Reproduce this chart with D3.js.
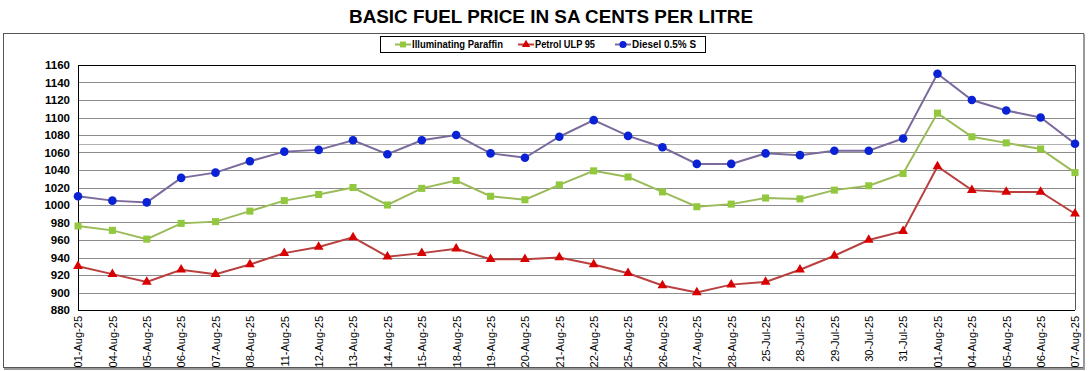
<!DOCTYPE html>
<html>
<head>
<meta charset="utf-8">
<script src="https://d3js.org/d3.v7.min.js"></script>
<style>
  body { margin: 0; background: #fff; }
  text { font-family: "Liberation Sans", Arial, sans-serif; }
</style>
</head>
<body>
<div id="chart"></div>
<script>
// data
var dates = ["01-Aug-25", "04-Aug-25", "05-Aug-25", "06-Aug-25", "07-Aug-25", "08-Aug-25",
    "11-Aug-25", "12-Aug-25", "13-Aug-25", "14-Aug-25", "15-Aug-25", "18-Aug-25",
    "19-Aug-25", "20-Aug-25", "21-Aug-25", "22-Aug-25", "25-Aug-25", "26-Aug-25",
    "27-Aug-25", "28-Aug-25", "25-Jul-25", "28-Jul-25", "29-Jul-25", "30-Jul-25",
    "31-Jul-25", "01-Aug-25 ", "04-Aug-25 ", "05-Aug-25 ", "06-Aug-25 ", "07-Aug-25 "];

var paraffin = [976, 971, 961, 979, 981, 993, 1005, 1012, 1020, 1000, 1019, 1028,
    1010, 1006, 1023, 1039, 1032, 1015, 998, 1001, 1008, 1007, 1017, 1022,
    1036, 1105, 1078, 1071, 1064, 1037];

var petrol = [930, 921, 912, 926, 921, 932, 945, 952, 963, 941, 945, 950,
    938, 938, 940, 932, 922, 908, 900, 909, 912, 926, 942, 960,
    970, 1044, 1017, 1015, 1015, 990];

var diesel = [1010, 1005, 1003, 1031, 1037, 1050, 1061, 1063, 1074, 1058, 1074, 1080,
    1059, 1054, 1078, 1097, 1079, 1066, 1047, 1047, 1059, 1057, 1062, 1062,
    1076, 1150, 1120, 1108, 1100, 1070];

var yTicks = [880, 900, 920, 940, 960, 980, 1000, 1020, 1040, 1060, 1080, 1100, 1120, 1140, 1160];

var W = 1091, H = 371;
var margin = {top: 65, right: 16, bottom: 61, left: 78};
var width = W - margin.left - margin.right,
    height = H - margin.top - margin.bottom;

var svg = d3.select("#chart").append("svg")
    .attr("width", W)
    .attr("height", H);

// title (condensed look via textLength)
svg.append("text")
    .attr("x", 349).attr("y", 23)
    .attr("textLength", 404)
    .attr("lengthAdjust", "spacingAndGlyphs")
    .style("font-weight", "bold")
    .style("font-size", "18px")
    .text("BASIC FUEL PRICE IN SA CENTS PER LITRE");

// outer chart frame
svg.append("rect")
    .attr("x", 3.5).attr("y", 33.5)
    .attr("width", 1080).attr("height", 334)
    .attr("fill", "none")
    .attr("stroke", "#555")
    .attr("stroke-width", 1);
svg.append("line")
    .attr("x1", 1084).attr("x2", 1084).attr("y1", 34).attr("y2", 369)
    .attr("stroke", "#999").attr("stroke-width", 2);
svg.append("line")
    .attr("x1", 4).attr("x2", 1085).attr("y1", 369).attr("y2", 369)
    .attr("stroke", "#999").attr("stroke-width", 2);

var g = svg.append("g")
    .attr("transform", "translate(" + margin.left + "," + margin.top + ")");

var x = d3.scalePoint()
    .domain(dates)
    .range([0, width])
    .padding(0);

var y = d3.scaleLinear()
    .domain([880, 1160])
    .range([height, 0]);

// gridlines
g.append("g")
    .selectAll("line")
    .data(yTicks.slice(1))
    .enter()
    .append("line")
    .attr("x1", 0).attr("x2", width)
    .attr("y1", function (d) { return Math.round(y(d)) + 0.5; })
    .attr("y2", function (d) { return Math.round(y(d)) + 0.5; })
    .attr("stroke", function (d) { return d == 1160 ? "#000" : "#8c8c8c"; })
    .attr("stroke-width", 1);

// faint extra line seen in the picture
g.append("line")
    .attr("x1", 0).attr("x2", width)
    .attr("y1", Math.round(y(1070)) + 0.5).attr("y2", Math.round(y(1070)) + 0.5)
    .attr("stroke", "#b0b0b0");

// plot frame: right edge
g.append("line")
    .attr("x1", width + 0.5).attr("x2", width + 0.5)
    .attr("y1", 0).attr("y2", height)
    .attr("stroke", "#555");

// y axis
var yAxis = g.append("g")
    .call(d3.axisLeft(y).tickValues(yTicks).tickFormat(d3.format("d")).tickSize(0).tickPadding(8));
yAxis.select(".domain").attr("stroke", "#000");
yAxis.selectAll("text")
    .style("font-weight", "bold")
    .style("font-size", "11.5px")
    .attr("fill", "#000");

// x axis
var xAxis = g.append("g")
    .attr("transform", "translate(0," + height + ")")
    .call(d3.axisBottom(x).tickSize(0).tickPadding(0));
xAxis.select(".domain").attr("stroke", "#000").attr("d", "M0,0.5H" + width);
xAxis.selectAll("text")
    .style("font-size", "11px")
    .attr("fill", "#000")
    .attr("transform", "rotate(-90)")
    .attr("text-anchor", "end")
    .attr("x", -6)
    .attr("y", 0)
    .attr("dy", "0.35em");

var series = [
    {name: "Illuminating Paraffin", values: paraffin, line: "#9bbb59", mark: "#92c83e", shape: d3.symbolSquare, size: 50},
    {name: "Petrol ULP 95", values: petrol, line: "#b8413f", mark: "#d80000", shape: d3.symbolTriangle, size: 42},
    {name: "Diesel 0.5% S", values: diesel, line: "#7b6a9c", mark: "#0a22d6", shape: d3.symbolCircle, size: 58}
];

var line = d3.line()
    .x(function (d, i) { return x(dates[i]); })
    .y(function (d) { return y(d); });

series.forEach(function (s) {
    g.append("path")
        .datum(s.values)
        .attr("fill", "none")
        .attr("stroke", s.line)
        .attr("stroke-width", 2)
        .attr("d", line);

    g.append("g")
        .selectAll("path")
        .data(s.values)
        .enter()
        .append("path")
        .attr("transform", function (d, i) { return "translate(" + x(dates[i]) + "," + y(d) + ")"; })
        .attr("d", d3.symbol().type(s.shape).size(s.size))
        .attr("fill", s.mark);
});

// legend
var legend = svg.append("g");
legend.append("rect")
    .attr("x", 380.5).attr("y", 36.5)
    .attr("width", 325).attr("height", 16)
    .attr("fill", "#fff")
    .attr("stroke", "#000");

var legendX = [395, 518, 615];
var legendW = [91, 60, 64];
series.forEach(function (s, i) {
    var lg = legend.append("g").attr("transform", "translate(" + legendX[i] + ",44.5)");
    lg.append("line")
        .attr("x1", 0).attr("x2", 16)
        .attr("stroke", s.line).attr("stroke-width", 2);
    lg.append("path")
        .attr("transform", "translate(8,0)")
        .attr("d", d3.symbol().type(s.shape).size(s.size * 0.7))
        .attr("fill", s.mark);
    lg.append("text")
        .attr("x", 17).attr("y", 0)
        .attr("dy", "0.35em")
        .attr("textLength", legendW[i])
        .attr("lengthAdjust", "spacingAndGlyphs")
        .style("font-weight", "bold")
        .style("font-size", "10px")
        .text(s.name);
});
</script>
</body>
</html>
